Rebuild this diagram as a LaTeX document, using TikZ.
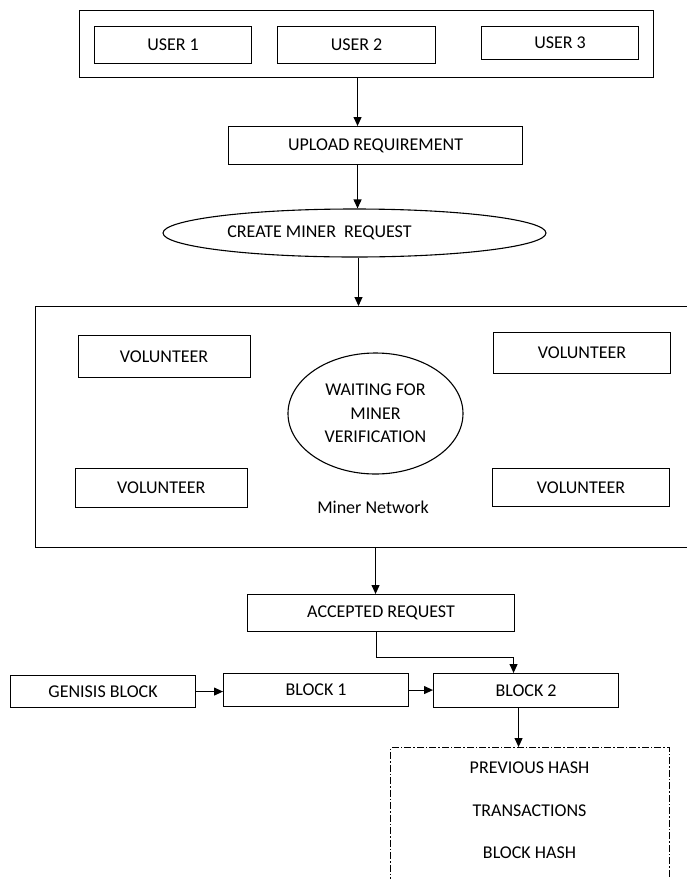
\documentclass[tikz,border=0pt]{standalone}
\usepackage{fontspec}
\setmainfont{Carlito}
\usetikzlibrary{shapes.geometric, arrows.meta}

\begin{document}
\begin{tikzpicture}[
  x=1pt, y=-1pt,
  font=\fontsize{18}{21}\selectfont,
  box/.style={draw, line width=1.1pt, inner sep=0pt, anchor=north west, align=center},
  oval/.style={draw, ellipse, line width=1.1pt, inner sep=0pt, align=center},
  arrow/.style={-{Triangle[length=9pt, width=8pt]}, line width=1.1pt},
  hashframe/.style={box, dash pattern=on 7pt off 2pt on 1.5pt off 2pt}
]
\clip (0,0) rectangle (687,879);
% users
\node[box, minimum width=574, minimum height=67] (users) at (79,10) {};
\node[box, minimum width=157, minimum height=37] (user1) at (94,26) {USER 1};
\node[box, minimum width=158, minimum height=37] (user2) at (277,26) {USER 2};
\node[box, minimum width=157, minimum height=33] (user3) at (481,26) {\raisebox{-3pt}{USER 3}};
\node[box, minimum width=294, minimum height=38] (upload) at (228,126) {UPLOAD REQUIREMENT};
\node[oval, minimum width=383, minimum height=48] (create) at (354.5,233) {CREATE MINER\ \ REQUEST\hspace*{70pt}};
% miner network
\node[box, minimum width=700, minimum height=241] (network) at (35,306) {};
\node[box, minimum width=172, minimum height=42] (vol1) at (77.5,335) {VOLUNTEER};
\node[box, minimum width=177, minimum height=41] (vol2) at (493,332) {VOLUNTEER};
\node[box, minimum width=172.5, minimum height=39] (vol3) at (74.5,468) {VOLUNTEER};
\node[box, minimum width=177, minimum height=38] (vol4) at (492,468) {VOLUNTEER};
\node[oval, minimum width=175, minimum height=121,
      font=\fontsize{18}{23.5}\selectfont] (waiting) at (375.5,413.5) {WAITING FOR\\MINER\\VERIFICATION};
\node (minernet) at (373,507) {Miner Network};
% blocks
\node[box, minimum width=267, minimum height=37] (accepted) at (247,594) {ACCEPTED REQUEST};
\node[box, minimum width=185, minimum height=32] (genesis) at (10,675) {GENISIS BLOCK};
\node[box, minimum width=185, minimum height=33] (block1) at (223,673) {BLOCK 1};
\node[box, minimum width=185, minimum height=34] (block2) at (433,673) {BLOCK 2};
\node[hashframe, minimum width=279, minimum height=150] (hashbox) at (390,747) {};
\node (prevhash) at (529.5,768) {PREVIOUS HASH};
\node (trans) at (529.5,811) {TRANSACTIONS};
\node (blockhash) at (529.5,853) {BLOCK HASH};
% connectors
\draw[arrow] ([xshift=-9pt]users.south) -- ([xshift=-18pt]upload.north);
\draw[arrow] ([xshift=-18pt]upload.south) -- ([xshift=-18pt]upload.south |- create.north);
\draw[arrow] ([xshift=4pt]create.south) -- ([xshift=4pt]create.south |- network.north);
\draw[arrow] ([xshift=-5.5pt]accepted.north |- network.south) -- ([xshift=-5.5pt]accepted.north);
\draw[arrow] ([xshift=-4.5pt]accepted.south) -- ++(0,25) -| ([xshift=-12.5pt]block2.north);
\draw[arrow] (genesis.east) -- (genesis.east -| block1.west);
\draw[arrow] (block1.east) -- (block1.east -| block2.west);
\draw[arrow] ([xshift=-7.5pt]block2.south) -- ([xshift=-7.5pt]block2.south |- hashbox.north);
\end{tikzpicture}
\end{document}
